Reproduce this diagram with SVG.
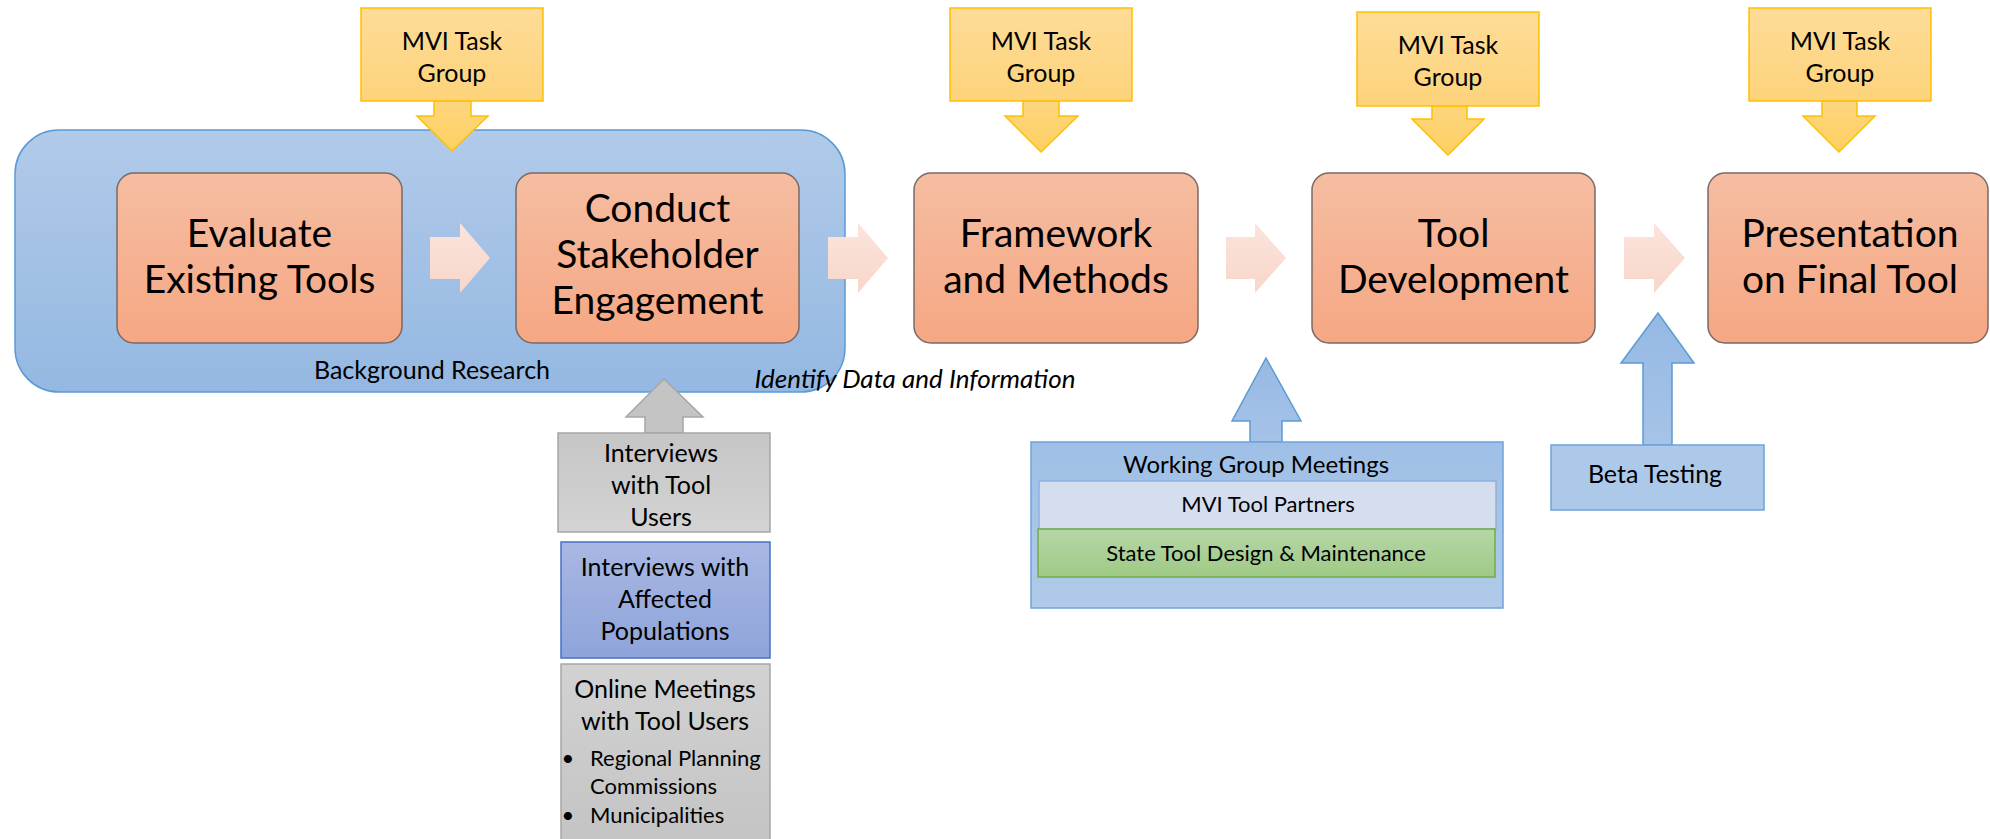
<svg xmlns="http://www.w3.org/2000/svg" width="1990" height="839" viewBox="0 0 1990 839">
<defs>
  <linearGradient id="gOrange" x1="0" y1="0" x2="0" y2="1">
    <stop offset="0" stop-color="#f5bda2"/>
    <stop offset="1" stop-color="#f6a783"/>
  </linearGradient>
  <linearGradient id="gYellow" x1="0" y1="0" x2="0" y2="1">
    <stop offset="0" stop-color="#fedc98"/>
    <stop offset="1" stop-color="#fdd37a"/>
  </linearGradient>
  <linearGradient id="gYellowArrow" x1="0" y1="0" x2="0" y2="1">
    <stop offset="0" stop-color="#fdd67e"/>
    <stop offset="1" stop-color="#fdd062"/>
  </linearGradient>
  <linearGradient id="gBlueBg" x1="0" y1="0" x2="0" y2="1">
    <stop offset="0" stop-color="#b1cae9"/>
    <stop offset="1" stop-color="#94b8e2"/>
  </linearGradient>
  <linearGradient id="gBlueBox" x1="0" y1="0" x2="0" y2="1">
    <stop offset="0" stop-color="#9fbfe6"/>
    <stop offset="1" stop-color="#b1cae9"/>
  </linearGradient>
  <linearGradient id="gBlueArrow" x1="0" y1="0" x2="0" y2="1">
    <stop offset="0" stop-color="#95b9e3"/>
    <stop offset="1" stop-color="#a6c3e8"/>
  </linearGradient>
  <linearGradient id="gPink" x1="0" y1="0" x2="0" y2="1">
    <stop offset="0" stop-color="#fbe4dc"/>
    <stop offset="1" stop-color="#f8d6ca"/>
  </linearGradient>
  <linearGradient id="gGray" x1="0" y1="0" x2="0" y2="1">
    <stop offset="0" stop-color="#c6c6c6"/>
    <stop offset="1" stop-color="#d3d3d3"/>
  </linearGradient>
  <linearGradient id="gGray2" x1="0" y1="0" x2="0" y2="1">
    <stop offset="0" stop-color="#d2d2d2"/>
    <stop offset="1" stop-color="#c3c3c3"/>
  </linearGradient>
  <linearGradient id="gPurple" x1="0" y1="0" x2="0" y2="1">
    <stop offset="0" stop-color="#a9b7e3"/>
    <stop offset="1" stop-color="#8ea4da"/>
  </linearGradient>
  <linearGradient id="gGreen" x1="0" y1="0" x2="0" y2="1">
    <stop offset="0" stop-color="#b6d6a7"/>
    <stop offset="1" stop-color="#9fca86"/>
  </linearGradient>
</defs>
<style>
  text { font-family: Lato, "Liberation Sans", sans-serif; fill: #000; text-anchor: middle; }
  .big { font-size: 39px; }
  .mvi { font-size: 25px; }
  .mid { font-size: 25px; }
  .sm { font-size: 24px; }
  .bul { font-size: 22px; }
  .orange { fill: url(#gOrange); stroke: #7a6a64; stroke-width: 1.5; }
  .yellow { fill: url(#gYellow); stroke: #ffc000; stroke-width: 1.5; }
  .yarrow { fill: url(#gYellowArrow); stroke: #ffc000; stroke-width: 1.5; }
  .pink { fill: url(#gPink); stroke: none; }
  .barrow { fill: url(#gBlueArrow); stroke: #5b9bd5; stroke-width: 1.5; }
</style>

<g id="background-research">
  <rect x="15" y="130" width="830" height="262" rx="44" fill="url(#gBlueBg)" stroke="#5b9bd5" stroke-width="1.5"/>
  <text class="mid" x="432" y="379">Background Research</text>
</g>

<g id="connectors">
  <polygon class="yarrow" points="434,101 471,101 471,116 488,116 452,151 417,116 434,116"/>
  <polygon class="yarrow" points="1023,101 1059,101 1059,116 1078,116 1041,152 1005,116 1023,116"/>
  <polygon class="yarrow" points="1432,106 1467,106 1467,119 1484,119 1448,155 1412,119 1432,119"/>
  <polygon class="yarrow" points="1822,101 1857,101 1857,116 1875,116 1839,152 1803,116 1822,116"/>
  <polygon class="pink" points="430,237 460,237 460,223 490,258 460,293 460,279 430,279"/>
  <polygon class="pink" points="828,237 858,237 858,223 888,258 858,293 858,279 828,279"/>
  <polygon class="pink" points="1226,237 1255,237 1255,223 1286,258 1255,293 1255,279 1226,279"/>
  <polygon class="pink" points="1624,237 1654,237 1654,223 1685,258 1654,293 1654,279 1624,279"/>
  <polygon points="645,433 645,417 626,417 664,379 703,417 683,417 683,433" fill="#c4c4c4" stroke="#a6a6a6" stroke-width="1.5"/>
  <polygon class="barrow" points="1250,442 1250,421 1232,421 1266,358 1301,421 1282,421 1282,442"/>
  <polygon class="barrow" points="1643,445 1643,363 1621,363 1658,313 1694,363 1672,363 1672,445"/>
</g>

<g id="mvi-1">
  <rect class="yellow" x="361" y="8" width="182" height="93"/>
  <text class="mvi" x="452" y="50">MVI Task</text>
  <text class="mvi" x="452" y="82">Group</text>
</g>
<g id="mvi-2">
  <rect class="yellow" x="950" y="8" width="182" height="93"/>
  <text class="mvi" x="1041" y="50">MVI Task</text>
  <text class="mvi" x="1041" y="82">Group</text>
</g>
<g id="mvi-3">
  <rect class="yellow" x="1357" y="12" width="182" height="94"/>
  <text class="mvi" x="1448" y="54">MVI Task</text>
  <text class="mvi" x="1448" y="86">Group</text>
</g>
<g id="mvi-4">
  <rect class="yellow" x="1749" y="8" width="182" height="93"/>
  <text class="mvi" x="1840" y="50">MVI Task</text>
  <text class="mvi" x="1840" y="82">Group</text>
</g>

<g id="evaluate">
  <rect class="orange" x="117" y="173" width="285" height="170" rx="17"/>
  <text class="big" x="259.5" y="247">Evaluate</text>
  <text class="big" x="259.5" y="293">Existing Tools</text>
</g>
<g id="conduct">
  <rect class="orange" x="516" y="173" width="283" height="170" rx="17"/>
  <text class="big" x="657.5" y="222">Conduct</text>
  <text class="big" x="657.5" y="268">Stakeholder</text>
  <text class="big" x="657.5" y="314">Engagement</text>
</g>
<g id="framework">
  <rect class="orange" x="914" y="173" width="284" height="170" rx="17"/>
  <text class="big" x="1056" y="247">Framework</text>
  <text class="big" x="1056" y="293">and Methods</text>
</g>
<g id="tool-dev">
  <rect class="orange" x="1312" y="173" width="283" height="170" rx="17"/>
  <text class="big" x="1453.5" y="247">Tool</text>
  <text class="big" x="1453.5" y="293">Development</text>
</g>
<g id="presentation">
  <rect class="orange" x="1708" y="173" width="280" height="170" rx="17"/>
  <text class="big" x="1850" y="247">Presentation</text>
  <text class="big" x="1850" y="293">on Final Tool</text>
</g>

<g id="identify-label">
  <text x="915" y="388" style="font-size:26px;font-style:italic">Identify Data and Information</text>
</g>

<g id="interviews-tool-users">
  <rect x="558" y="433" width="212" height="99" fill="url(#gGray)" stroke="#a6a6a6" stroke-width="1.5"/>
  <text class="mid" x="661" y="462">Interviews</text>
  <text class="mid" x="661" y="494">with Tool</text>
  <text class="mid" x="661" y="526">Users</text>
</g>
<g id="interviews-affected">
  <rect x="561" y="542" width="209" height="116" fill="url(#gPurple)" stroke="#4472c4" stroke-width="1.5"/>
  <text class="mid" x="665" y="576">Interviews with</text>
  <text class="mid" x="665" y="608">Affected</text>
  <text class="mid" x="665" y="640">Populations</text>
</g>
<g id="online-meetings">
  <rect x="561" y="664" width="209" height="190" fill="url(#gGray2)" stroke="#a6a6a6" stroke-width="1.5"/>
  <text class="mid" x="665" y="698">Online Meetings</text>
  <text class="mid" x="665" y="730">with Tool Users</text>
  <text class="bul" x="568" y="766">•</text>
  <text class="bul" x="590" y="766" style="text-anchor:start">Regional Planning</text>
  <text class="bul" x="590" y="794" style="text-anchor:start">Commissions</text>
  <text class="bul" x="568" y="823">•</text>
  <text class="bul" x="590" y="823" style="text-anchor:start">Municipalities</text>
</g>

<g id="working-group">
  <rect x="1031" y="442" width="472" height="166" fill="url(#gBlueBox)" stroke="#6fa3dc" stroke-width="1.5"/>
  <text class="sm" x="1256" y="473">Working Group Meetings</text>
</g>
<g id="mvi-tool-partners">
  <rect x="1039" y="481" width="457" height="48" fill="#d4deef" stroke="#8fb0e0" stroke-width="1.5"/>
  <text x="1268" y="512" style="font-size:22px">MVI Tool Partners</text>
</g>
<g id="state-tool">
  <rect x="1038" y="529" width="457" height="48" fill="url(#gGreen)" stroke="#70ad47" stroke-width="1.5"/>
  <text x="1266" y="561" style="font-size:22px">State Tool Design &amp; Maintenance</text>
</g>
<g id="beta-testing">
  <rect x="1551" y="445" width="213" height="65" fill="#adc9ea" stroke="#6fa3dc" stroke-width="1.5"/>
  <text x="1655" y="483" style="font-size:25px">Beta Testing</text>
</g>
</svg>
